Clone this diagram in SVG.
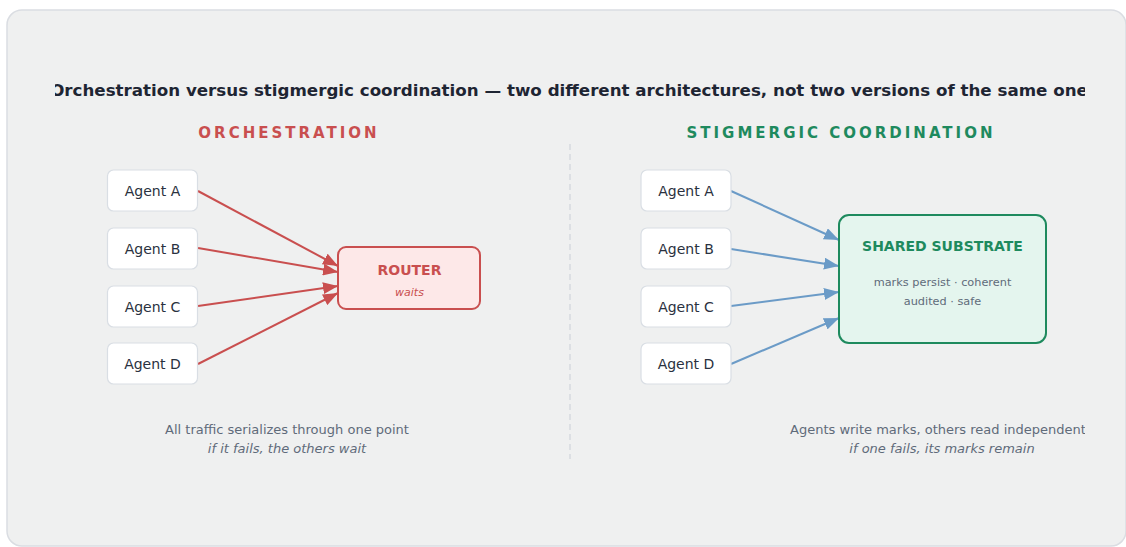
<svg xmlns="http://www.w3.org/2000/svg" width="1126" height="547" viewBox="0 0 1126 547">
  <defs>
    <style>
      .sans { font-family: "DejaVu Sans", "Liberation Sans", sans-serif; }
      .title { font-size: 16.7px; font-weight: bold; fill: #1e2533; }
      .section { font-size: 15px; font-weight: bold; letter-spacing: 3px; }
      .agent rect { fill: #ffffff; stroke: #d9dee4; stroke-width: 1.2; }
      .agent text { font-size: 14px; fill: #2a3140; text-anchor: middle; }
      .caption { font-size: 13px; fill: #5f6b7a; }
      .caption-em { font-size: 13px; fill: #5f6b7a; font-style: italic; }
      .edge-red { stroke: #c94f4f; stroke-width: 2; fill: none; }
      .edge-blue { stroke: #6b9bc7; stroke-width: 2; fill: none; }
    </style>
    <marker id="head-red" markerUnits="userSpaceOnUse" markerWidth="16" markerHeight="12" refX="15" refY="6" orient="auto">
      <path d="M0,0 L15,6 L0,12 z" fill="#c94f4f"/>
    </marker>
    <marker id="head-blue" markerUnits="userSpaceOnUse" markerWidth="16" markerHeight="12" refX="15" refY="6" orient="auto">
      <path d="M0,0 L15,6 L0,12 z" fill="#6b9bc7"/>
    </marker>
    <clipPath id="content-clip">
      <rect x="55" y="0" width="1030" height="547"/>
    </clipPath>
  </defs>

  <rect width="1126" height="547" fill="#ffffff"/>
  <!-- card background -->
  <rect x="7" y="10" width="1119" height="536" rx="15" fill="#eff0f0" stroke="#dadde2" stroke-width="1.5"/>

  <g clip-path="url(#content-clip)" class="sans">
    <text class="title" x="569" y="96" text-anchor="middle">Orchestration versus stigmergic coordination — two different architectures, not two versions of the same one</text>

    <text class="section" x="289" y="138" text-anchor="middle" fill="#c94f4f">ORCHESTRATION</text>
    <text class="section" x="841" y="138" text-anchor="middle" fill="#1e8a5e">STIGMERGIC COORDINATION</text>

    <!-- divider between the two halves -->
    <line x1="570" y1="144" x2="570" y2="459" stroke="#dcdfe3" stroke-width="2" stroke-dasharray="6 4"/>

    <!-- connectors -->
    <g id="connectors">
      <line class="edge-red" x1="198" y1="191" x2="338" y2="266" marker-end="url(#head-red)"/>
      <line class="edge-red" x1="198" y1="248" x2="338" y2="272" marker-end="url(#head-red)"/>
      <line class="edge-red" x1="198" y1="306" x2="338" y2="286" marker-end="url(#head-red)"/>
      <line class="edge-red" x1="198" y1="364" x2="338" y2="293" marker-end="url(#head-red)"/>
      <line class="edge-blue" x1="731" y1="191" x2="839" y2="240" marker-end="url(#head-blue)"/>
      <line class="edge-blue" x1="731" y1="249" x2="839" y2="266" marker-end="url(#head-blue)"/>
      <line class="edge-blue" x1="731" y1="306" x2="839" y2="292" marker-end="url(#head-blue)"/>
      <line class="edge-blue" x1="731" y1="364" x2="839" y2="318" marker-end="url(#head-blue)"/>
    </g>

    <!-- orchestration side -->
    <g id="orch-agent-a" class="agent"><rect x="107.5" y="170" width="90" height="41" rx="6"/><text x="152.5" y="196">Agent A</text></g>
    <g id="orch-agent-b" class="agent"><rect x="107.5" y="228" width="90" height="41" rx="6"/><text x="152.5" y="254">Agent B</text></g>
    <g id="orch-agent-c" class="agent"><rect x="107.5" y="286" width="90" height="41" rx="6"/><text x="152.5" y="312">Agent C</text></g>
    <g id="orch-agent-d" class="agent"><rect x="107.5" y="343" width="90" height="41" rx="6"/><text x="152.5" y="369">Agent D</text></g>

    <g id="router">
      <rect x="338" y="247" width="142" height="62" rx="8" fill="#fde8e8" stroke="#c94f4f" stroke-width="2"/>
      <text x="409.5" y="275" text-anchor="middle" font-size="14" font-weight="bold" fill="#c94f4f">ROUTER</text>
      <text x="409.5" y="296" text-anchor="middle" font-size="11" font-style="italic" fill="#c94f4f">waits</text>
    </g>

    <!-- stigmergic side -->
    <g id="stig-agent-a" class="agent"><rect x="641" y="170" width="90" height="41" rx="6"/><text x="686" y="196">Agent A</text></g>
    <g id="stig-agent-b" class="agent"><rect x="641" y="228" width="90" height="41" rx="6"/><text x="686" y="254">Agent B</text></g>
    <g id="stig-agent-c" class="agent"><rect x="641" y="286" width="90" height="41" rx="6"/><text x="686" y="312">Agent C</text></g>
    <g id="stig-agent-d" class="agent"><rect x="641" y="343" width="90" height="41" rx="6"/><text x="686" y="369">Agent D</text></g>

    <g id="substrate">
      <rect x="839" y="215" width="207" height="128" rx="10" fill="#e4f5ee" stroke="#1e8a5e" stroke-width="2"/>
      <text x="942.5" y="251" text-anchor="middle" font-size="14" font-weight="bold" fill="#1e8a5e">SHARED SUBSTRATE</text>
      <text x="942.5" y="286" text-anchor="middle" font-size="11.3" fill="#5f6b7a">marks persist · coherent</text>
      <text x="942.5" y="305" text-anchor="middle" font-size="11.3" fill="#5f6b7a">audited · safe</text>
    </g>

    <!-- captions -->
    <text class="caption" x="287" y="434" text-anchor="middle">All traffic serializes through one point</text>
    <text class="caption-em" x="287" y="453" text-anchor="middle">if it fails, the others wait</text>
    <text class="caption" x="790" y="434">Agents write marks, others read independent</text>
    <text class="caption-em" x="942" y="453" text-anchor="middle">if one fails, its marks remain</text>
  </g>
</svg>
